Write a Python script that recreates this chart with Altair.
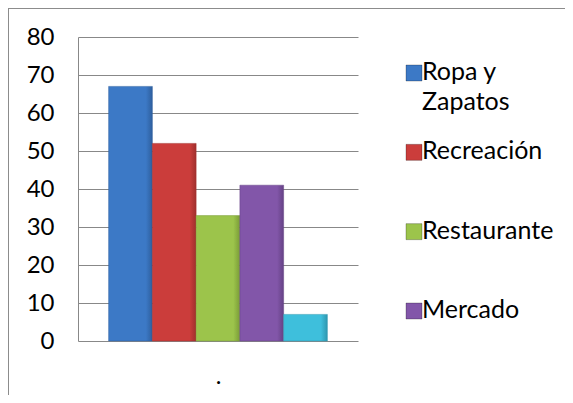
import altair as alt
import pandas as pd

# ---- data ----
series = ["Ropa y Zapatos", "Recreación", "Restaurante", "Mercado", "Otros"]
values = [67, 52, 33, 41, 7]
colors = ["#3C79C6", "#CB3D3B", "#9CC44B", "#8256A9", "#3EBFDC"]
edge_colors = ["#2E5F9E", "#A02F2D", "#7A9C38", "#654285", "#2E97AF"]
category = "."
legend_series = ["Ropa y Zapatos", "Recreación", "Restaurante", "Mercado"]
legend_labels = ["Ropa y\nZapatos", "Recreación", "Restaurante", "Mercado"]
y_ticks = [0, 10, 20, 30, 40, 50, 60, 70, 80]

FONT = "Lato"
GRID = "#888888"

bars_df = pd.DataFrame({"serie": series, "valor": values, "cat": [category] * len(series)})
legend_df = pd.DataFrame({"serie": legend_series, "label": legend_labels,
                          "idx": list(range(len(legend_series)))})
one = pd.DataFrame({"a": [0]})

color_scale = alt.Scale(domain=series, range=colors)

x_enc = alt.X("serie:N", sort=series,
              scale=alt.Scale(paddingInner=0, paddingOuter=0.7),
              axis=alt.Axis(labels=False, ticks=False, domain=False, grid=False, title=category,
                            titleFont=FONT, titleFontSize=24, titleFontWeight="normal",
                            titleColor="black", titlePadding=23))
y_enc = alt.Y("valor:Q", scale=alt.Scale(domain=[0, 80]),
              axis=alt.Axis(values=y_ticks, title=None, ticks=False, domain=True,
                            domainColor=GRID, grid=True, gridColor=GRID, gridOpacity=1,
                            labelFont=FONT, labelFontSize=24, labelColor="black",
                            labelPadding=24))

bar_layers = []
for s, c, e in zip(series, colors, edge_colors):
    grad = alt.Gradient(
        gradient="linear", x1=0, x2=1, y1=0, y2=0,
        stops=[alt.GradientStop(offset=0, color=c),
               alt.GradientStop(offset=0.85, color=c),
               alt.GradientStop(offset=1, color=e)],
    )
    bar_layers.append(
        alt.Chart(bars_df).transform_filter(alt.datum.serie == s)
        .mark_bar(color=grad, stroke=e, strokeWidth=0.5)
        .encode(x=x_enc, y=y_enc)
    )
bars = alt.layer(*bar_layers)

leg_y = alt.Y("idx:O", scale=alt.Scale(type="point", range=[36, 274], padding=0), axis=None)

leg_sq = alt.Chart(legend_df).mark_square(size=256, opacity=1, stroke="#00000040", strokeWidth=1).encode(
    x=alt.value(336),
    y=leg_y,
    color=alt.Color("serie:N", scale=color_scale, legend=None),
)
leg_txt = alt.Chart(legend_df).mark_text(
    align="left", baseline="top", dy=-13, lineBreak="\n", lineHeight=30,
    font=FONT, fontSize=25, color="black",
).encode(
    x=alt.value(344),
    y=leg_y,
    text="label:N",
)
legend_layer = alt.layer(leg_sq, leg_txt)

frame_v = alt.Chart(one).mark_rule(color="#8c8c8c", strokeWidth=2).encode(
    x=alt.value(-70), y=alt.value(-29), y2=alt.value(358))
frame_h = alt.Chart(one).mark_rule(color="#8c8c8c", strokeWidth=2).encode(
    x=alt.value(-70), x2=alt.value(487), y=alt.value(-29))

chart = alt.layer(bars, legend_layer, frame_v, frame_h).resolve_scale(
    y="independent"
).properties(
    width=280, height=304,
    padding={"left": 70, "top": 29, "right": 207, "bottom": 54},
    autosize=alt.AutoSizeParams(type="none"),
).configure_view(stroke=None)

chart.save("out.html", embed_options={"renderer": "svg", "actions": False})
